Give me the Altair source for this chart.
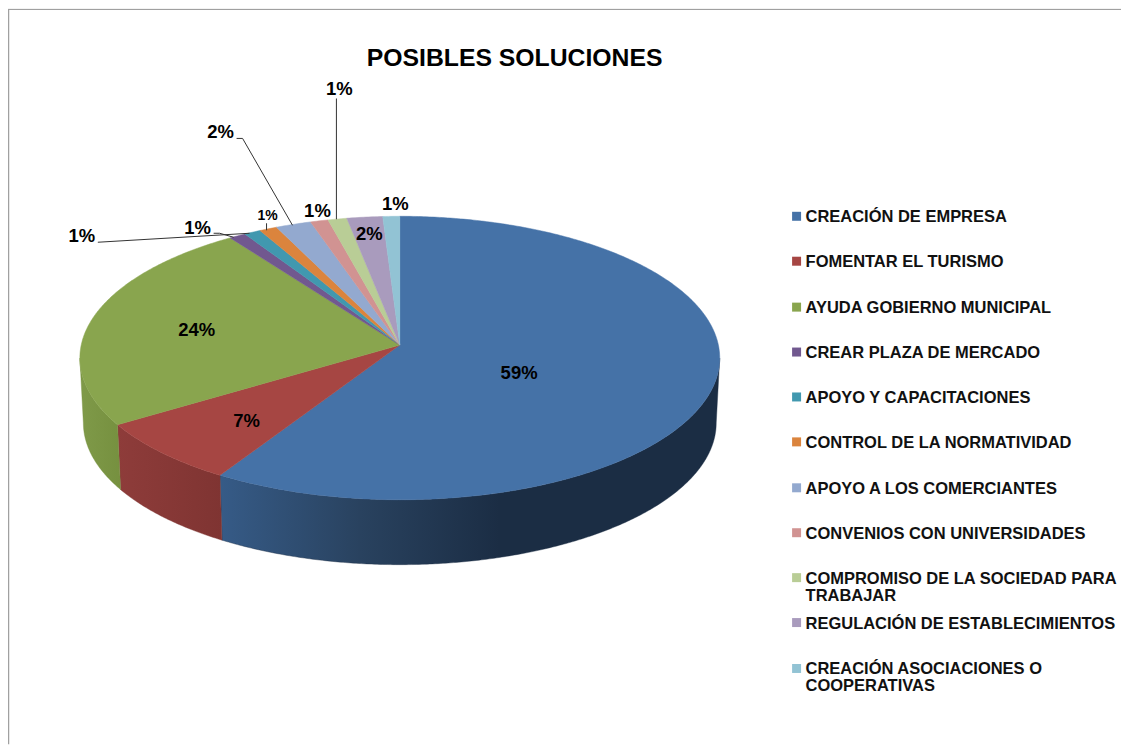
import math
import altair as alt
import pandas as pd

W, H = 1115, 737
TITLE = "POSIBLES SOLUCIONES"
categories = ["CREACIÓN DE EMPRESA", "FOMENTAR EL TURISMO", "AYUDA GOBIERNO MUNICIPAL",
              "CREAR PLAZA DE MERCADO", "APOYO Y CAPACITACIONES", "CONTROL DE LA NORMATIVIDAD",
              "APOYO A LOS COMERCIANTES", "CONVENIOS CON UNIVERSIDADES",
              "COMPROMISO DE LA SOCIEDAD PARA\nTRABAJAR", "REGULACIÓN DE ESTABLECIMIENTOS",
              "CREACIÓN ASOCIACIONES O\nCOOPERATIVAS"]
values = [59.5, 7.7, 23.9, 0.85, 0.85, 0.9, 1.8, 0.9, 0.95, 1.8, 0.85]
colors = ["#4572A7", "#A64643", "#89A54E", "#71588F", "#4198AF", "#DB843D",
          "#93A9CF", "#D19392", "#B9CD96", "#A99BBD", "#92C3D4"]
legend_y = [216, 261, 307, 352, 397, 442, 488, 533, 578, 623, 669]

label_text = ["59%", "7%", "24%", "1%", "1%", "1%", "2%", "1%", "1%", "2%", "1%"]
label_x = [520, 247, 197, 82, 198, 268, 221, 318, 340, 370, 396]
label_y = [373, 421, 330, 236, 228, 216, 132, 211, 88, 234, 204]
label_size = [18.5, 18.5, 18.5, 18.5, 18.5, 14, 18.5, 18.5, 18.5, 18.5, 18.5]

leaders = [
    [(98, 242), (250, 233)],
    [(214, 233), (220, 233), (234, 237)],
    [(267, 223), (267, 230)],
    [(237, 138), (243, 138), (293, 225)],
    [(337, 98), (337, 219)],
]
wall_stops = {
    0: [("#365B87", 0), ("#29425F", 0.28), ("#1B2D44", 0.56), ("#1B2D44", 1)],
    1: [("#8E3C3A", 0), ("#7F3432", 1)],
    2: [("#7F9A49", 0), ("#76903F", 1)],
}

CX, CY, RX, RY = 400.5, 358, 320.5, 142
APEX_Y = 345
BX, BY = 317, 423

x_s = alt.Scale(domain=[8, 8 + W], range=[0, W], nice=False, zero=False)
y_s = alt.Scale(domain=[8, 8 + H], range=[0, H], nice=False, zero=False)
X = alt.X("x:Q", scale=x_s, axis=None)
Y = alt.Y("y:Q", scale=y_s, axis=None)


def top_pt(t):
    return CX + RX * math.sin(t), CY - RY * math.cos(t)


def bot_pt(t):
    return CX + BX * math.sin(t), BY - RY * math.cos(t)


def arc(a, b, f):
    n = max(4, int(abs(b - a) * 120))
    return [f(a + (b - a) * i / n) for i in range(n + 1)]


def polygon(points, **mark):
    df = pd.DataFrame(points, columns=["x", "y"])
    df["i"] = range(len(df))
    return alt.Chart(df).mark_line(**mark).encode(x=X, y=Y, order="i:Q")


bounds = [0.0]
for v in values:
    bounds.append(bounds[-1] + v / sum(values) * 2 * math.pi)

layers = []

# side wall of the visible front slices
for i, stops in wall_stops.items():
    a, b = bounds[i], bounds[i + 1]
    a2, b2 = max(a, math.pi / 2), min(b, 3 * math.pi / 2)
    pts = arc(a2, b2, top_pt) + arc(b2, a2, bot_pt)
    pts.append(pts[0])
    grad = alt.Gradient(gradient="linear", x1=0, x2=1, y1=0, y2=0,
                        stops=[alt.GradientStop(color=c, offset=o) for c, o in stops])
    layers.append(polygon(pts, fill=grad, stroke=stops[-1][0], strokeWidth=0.4))

# top face
for i, c in enumerate(colors):
    pts = [(CX, APEX_Y)] + arc(bounds[i], bounds[i + 1], top_pt) + [(CX, APEX_Y)]
    layers.append(polygon(pts, fill=c, stroke=c, strokeWidth=0.5))

# leader lines
for seg in leaders:
    layers.append(polygon(seg, color="#333333", strokeWidth=1))

# data labels
lab = pd.DataFrame({"x": label_x, "y": label_y, "t": label_text, "s": label_size})
for s, g in lab.groupby("s"):
    layers.append(alt.Chart(g).mark_text(font="Liberation Sans", fontWeight="bold", fontSize=float(s),
                                         color="#000000").encode(x=X, y=Y, text="t:N"))

# title
layers.append(alt.Chart(pd.DataFrame({"x": [515.5], "y": [58], "t": [TITLE]})).mark_text(
    font="Liberation Sans", fontWeight="bold", fontSize=24.8, color="#000000").encode(x=X, y=Y, text="t:N"))

# legend
leg = pd.DataFrame({"x": 798.0, "y": legend_y, "c": colors, "t": categories, "k": range(len(colors))})
layers.append(alt.Chart(leg).mark_square(size=81, opacity=1).encode(
    x=X, y=Y, fill=alt.Fill("c:N", scale=None), stroke=alt.value(None)))
leg_t = leg.assign(x=807.0, y=leg["y"] + 6.0)
layers.append(alt.Chart(leg_t).mark_text(
    font="Liberation Sans", fontWeight="bold", fontSize=16.5, align="left", baseline="alphabetic",
    lineBreak="\n", lineHeight=17, color="#111111").encode(x=X, y=Y, text="t:N"))

# frame
layers.append(polygon([(8.5, 754), (8.5, 8.5), (1129, 8.5)], color="#A0A0A0", strokeWidth=1.5, clip=True))

chart = alt.layer(*layers).properties(
    width=W, height=H, padding=0, autosize=alt.AutoSizeParams(type="none"),
    view=alt.ViewConfig(stroke=None), background="#FFFFFF",
)
chart.save("out.html", embed_options={"renderer": "svg", "actions": False})
